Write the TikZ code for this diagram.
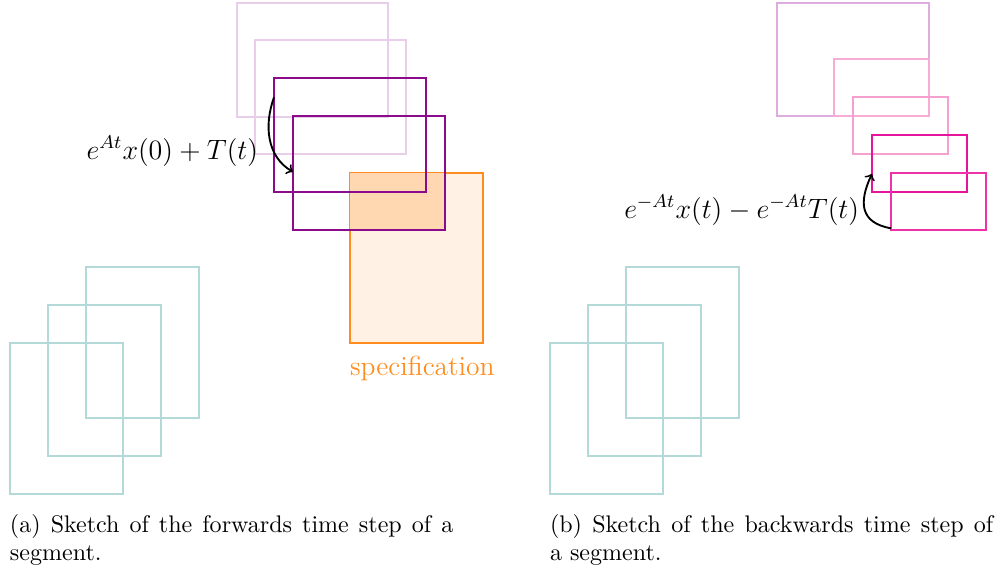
\documentclass[tikz,border=0pt]{standalone}
\usetikzlibrary{calc}
\definecolor{tealL}{RGB}{179,217,217}
\definecolor{violL}{RGB}{232,206,232}
\definecolor{violD}{RGB}{140,10,140}
\definecolor{orS}{RGB}{255,140,30}
\definecolor{orF}{RGB}{255,241,228}
\definecolor{orO}{RGB}{255,216,178}
\definecolor{pkA}{RGB}{222,172,222}
\definecolor{pkB}{RGB}{246,172,212}
\definecolor{pkC}{RGB}{245,160,206}
\definecolor{pkD}{RGB}{230,20,155}
\definecolor{pkE}{RGB}{238,50,168}
\tikzset{
  box/.style={draw, inner sep=0pt, outer sep=0pt, anchor=north west, line width=0.45pt},
  lbl/.style={inner sep=0pt, outer sep=0pt, font=\fontsize{11.8}{14}\selectfont},
  conn/.style={->, thick, black},
  captiontext/.style={inner sep=0pt, outer sep=0pt, anchor=base west, text width=190pt, align=justify, font=\fontsize{10.3}{12.3}\selectfont}
}
\begin{document}
\begin{tikzpicture}[x=0.4286pt, y=-0.4286pt]
\useasboundingbox (0,0) rectangle (1002,572);
% ---------- left panel ----------
\node[box, tealL, minimum width=113*0.4286pt, minimum height=151*0.4286pt] (ta1) at (10,343) {};
\node[box, tealL, minimum width=113*0.4286pt, minimum height=151*0.4286pt] (ta2) at (48,305) {};
\node[box, tealL, minimum width=113*0.4286pt, minimum height=151*0.4286pt] (ta3) at (86,267) {};
% specification
\node[box, orS, fill=orF, minimum width=133*0.4286pt, minimum height=170*0.4286pt] (spec) at (350,173) {};
\fill[orO] (350,173) rectangle (445,230);
\node[lbl, anchor=base west, text=orS] (speclbl) at (350,375) {specification};
% purple
\node[box, violL, minimum width=151*0.4286pt, minimum height=114*0.4286pt] (p1) at (237,3) {};
\node[box, violL, minimum width=151*0.4286pt, minimum height=114*0.4286pt] (p2) at (255,40) {};
\node[box, violD, minimum width=152*0.4286pt, minimum height=114*0.4286pt] (p3) at (274,78) {};
\node[box, violD, minimum width=152*0.4286pt, minimum height=114*0.4286pt] (p4) at (293,116) {};
\coordinate (a1s) at ($(p3.north west)!0.17!(p3.south west)$);
\coordinate (a1e) at ($(p4.north west)!0.49!(p4.south west)$);
\draw[conn] (a1s) to[out=250, in=150] (a1e);
\node[lbl, anchor=base east] (la) at (258,159) {$e^{At}x(0)+T(t)$};
\node[captiontext] (capa) at (10,532) {(a) Sketch of the forwards time step of a segment.};
% ---------- right panel ----------
\node[box, tealL, minimum width=113*0.4286pt, minimum height=151*0.4286pt] (tb1) at (550,343) {};
\node[box, tealL, minimum width=113*0.4286pt, minimum height=151*0.4286pt] (tb2) at (588,305) {};
\node[box, tealL, minimum width=113*0.4286pt, minimum height=151*0.4286pt] (tb3) at (626,267) {};
\node[box, pkA, minimum width=152*0.4286pt, minimum height=113*0.4286pt] (k1) at (777,3) {};
\node[box, pkB, minimum width=95*0.4286pt, minimum height=57*0.4286pt] (k2) at (834,59) {};
\node[box, pkC, minimum width=95*0.4286pt, minimum height=57*0.4286pt] (k3) at (853,97) {};
\node[box, pkD, minimum width=95*0.4286pt, minimum height=57*0.4286pt] (k4) at (872,135) {};
\node[box, pkE, minimum width=95*0.4286pt, minimum height=57*0.4286pt] (k5) at (891,173) {};
\coordinate (a2s) at ($(k5.north west)!0.97!(k5.south west)$);
\coordinate (a2e) at ($(k4.north west)!0.68!(k4.south west)$);
\draw[conn] (a2s) to[out=170, in=245, looseness=1.4] (a2e);
\node[lbl, anchor=base east] (lb) at (859,218) {$e^{-At}x(t)-e^{-At}T(t)$};
\node[captiontext] (capb) at (550,532) {(b) Sketch of the backwards time step of\linebreak a segment.};
\end{tikzpicture}
\end{document}
